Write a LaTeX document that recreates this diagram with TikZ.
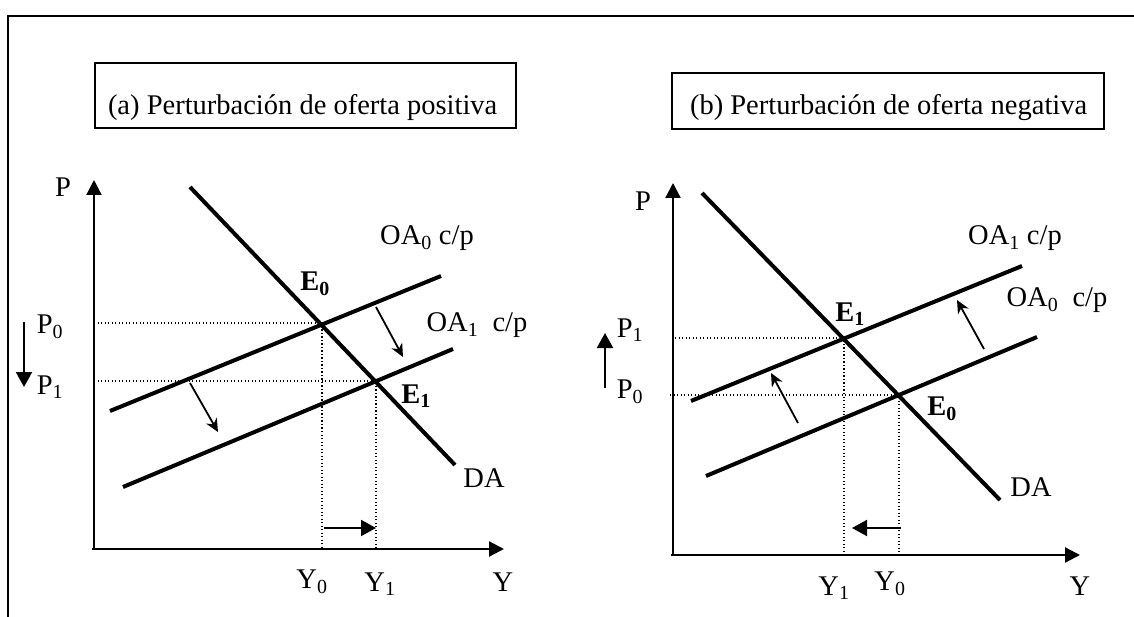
\documentclass[tikz,border=0pt]{standalone}
\usepackage{fontspec}
\setmainfont{Liberation Serif}
\usetikzlibrary{arrows.meta}
\begin{document}
\begin{tikzpicture}[x=1pt,y=-1pt,
  curve/.style={line width=4pt},
  axisline/.style={line width=2.2pt,-{Triangle[length=15pt,width=15pt]}},
  guide/.style={line width=1.3pt,dash pattern=on 1.3pt off 2.2pt},
  shiftarrow/.style={line width=1.8pt,-{Stealth[length=13pt,width=12pt,inset=4pt]}},
  movearrow/.style={line width=2pt,-{Triangle[length=15pt,width=16pt]}},
  lbl/.style={font=\fontsize{28.5}{32}\selectfont,inner sep=0pt},
  titlebox/.style={draw,line width=2pt,font=\fontsize{28.5}{32}\selectfont,inner ysep=0pt,inner xsep=13pt,anchor=north west},
  frameline/.style={line width=2pt}
]
\useasboundingbox (0,0) rectangle (1134,617);

% outer frame
\coordinate (fbl) at (8,617);
\coordinate (ftl) at (8,16);
\coordinate (ftr) at (1134,16);
\draw[frameline] (fbl) -- (ftl) -- (ftr);

% title boxes
\node[titlebox,text height=52pt,text depth=13pt] (ta) at (94,62) {\makebox[395pt][l]{(a) Perturbación de oferta positiva}};
\node[titlebox,inner xsep=18pt,text height=42pt,text depth=14pt] (tb) at (671,72) {\makebox[396pt][l]{(b) Perturbación de oferta negativa}};

% ---------------- panel (a) ----------------
\coordinate (ao) at (94,549);
\coordinate (ayt) at (94,180);
\coordinate (axs) at (92,549);
\coordinate (axt) at (504,549);
\draw[axisline] (ao) -- (ayt);
\draw[axisline] (axs) -- (axt);

\coordinate (aS0a) at (110,411); \coordinate (aS0b) at (441,276);
\coordinate (aS1a) at (123,487); \coordinate (aS1b) at (453,349);
\coordinate (aDa) at (190,187);  \coordinate (aDb) at (455,465);
\draw[curve] (aS0a) -- (aS0b);
\draw[curve] (aS1a) -- (aS1b);
\draw[curve] (aDa) -- (aDb);

\coordinate (aE0) at (322,323);
\coordinate (aE1) at (376,381);
\coordinate (aP0) at (94,323);
\coordinate (aP1) at (94,381);
\coordinate (aY0) at (322,549);
\coordinate (aY1) at (376,549);
\draw[guide] (aP0) -- (aE0) -- (aY0);
\draw[guide] (aP1) -- (aE1) -- (aY1);

\coordinate (aLa) at (24,322); \coordinate (aLb) at (24,387);
\draw[movearrow] (aLa) -- (aLb);
\coordinate (aBa) at (324,528); \coordinate (aBb) at (376,528);
\draw[movearrow] (aBa) -- (aBb);

\coordinate (aA1s) at (376,307); \coordinate (aA1t) at (403,357);
\coordinate (aA2s) at (190,383); \coordinate (aA2t) at (218,432);
\draw[shiftarrow] (aA1s) -- (aA1t);
\draw[shiftarrow] (aA2s) -- (aA2t);

\node[lbl] (aPl) at (63,187) {P};
\node[lbl] (aP0l) at (50,327) {P\textsubscript{0}};
\node[lbl] (aP1l) at (50,387) {P\textsubscript{1}};
\node[lbl] (aOA0) at (427,238) {OA\textsubscript{0} c/p};
\node[lbl] (aOA1) at (477,325) {OA\textsubscript{1}\ \ c/p};
\node[lbl] (aE0l) at (315,284) {\textbf{E\textsubscript{0}}};
\node[lbl] (aE1l) at (416,396) {\textbf{E\textsubscript{1}}};
\node[lbl] (aDAl) at (484,478) {DA};
\node[lbl] (aY0l) at (312,582) {Y\textsubscript{0}};
\node[lbl] (aY1l) at (380,584) {Y\textsubscript{1}};
\node[lbl] (aYl) at (503,582) {Y};

% ---------------- panel (b) ----------------
\coordinate (bo) at (673,555);
\coordinate (byt) at (673,183);
\coordinate (bxs) at (671,555);
\coordinate (bxt) at (1080,555);
\draw[axisline] (bo) -- (byt);
\draw[axisline] (bxs) -- (bxt);

\coordinate (bDa) at (702,193);  \coordinate (bDb) at (1000,500);
\coordinate (bS1a) at (691,401); \coordinate (bS1b) at (1022,266);
\coordinate (bS0a) at (706,476); \coordinate (bS0b) at (1037,337);
\draw[curve] (bDa) -- (bDb);
\draw[curve] (bS1a) -- (bS1b);
\draw[curve] (bS0a) -- (bS0b);

\coordinate (bE1) at (844,338);
\coordinate (bE0) at (899,395);
\coordinate (bP1) at (675,338);
\coordinate (bP0) at (670,395);
\coordinate (bY1) at (844,555);
\coordinate (bY0) at (899,555);
\draw[guide] (bP1) -- (bE1) -- (bY1);
\draw[guide] (bP0) -- (bE0) -- (bY0);

\coordinate (bLa) at (605,388); \coordinate (bLb) at (605,333);
\draw[movearrow] (bLa) -- (bLb);
\coordinate (bBa) at (901,528); \coordinate (bBb) at (852,528);
\draw[movearrow] (bBa) -- (bBb);

\coordinate (bA1s) at (798,423); \coordinate (bA1t) at (771,373);
\coordinate (bA2s) at (984,349); \coordinate (bA2t) at (957,300);
\draw[shiftarrow] (bA1s) -- (bA1t);
\draw[shiftarrow] (bA2s) -- (bA2t);

\node[lbl] (bPl) at (643,201) {P};
\node[lbl] (bP1l) at (630,330) {P\textsubscript{1}};
\node[lbl] (bP0l) at (630,392) {P\textsubscript{0}};
\node[lbl] (bE1l) at (850,314) {\textbf{E\textsubscript{1}}};
\node[lbl] (bOA1) at (1015,238) {OA\textsubscript{1} c/p};
\node[lbl] (bOA0) at (1057,300) {OA\textsubscript{0}\ \ c/p};
\node[lbl] (bE0l) at (942,409) {\textbf{E\textsubscript{0}}};
\node[lbl] (bDAl) at (1031,487) {DA};
\node[lbl] (bY1l) at (834,588) {Y\textsubscript{1}};
\node[lbl] (bY0l) at (890,584) {Y\textsubscript{0}};
\node[lbl] (bYl) at (1080,586) {Y};
\end{tikzpicture}
\end{document}
